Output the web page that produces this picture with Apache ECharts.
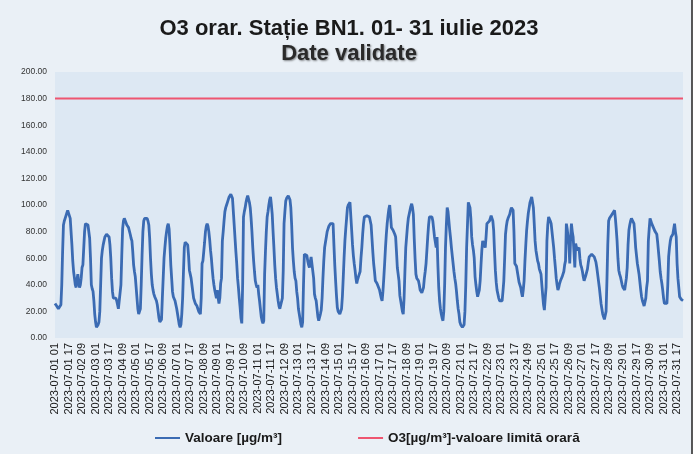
<!DOCTYPE html>
<html>
<head>
<meta charset="utf-8">
<script src="https://cdn.jsdelivr.net/npm/echarts@6/dist/echarts.min.js"></script>
<style>
  html, body { margin: 0; padding: 0; background: #f3f5f8; }
  #main { width: 698px; height: 454px; }
</style>
</head>
<body>
<div id="main"></div>
<script>
// valori orare O3 (µg/m3), cate o lista pe zi, ora 01..24
var d01 = [26,25,24,23,22,21,21,25,40,65,85,88,90,92,94,96,97,95,90,80,70,58,50,45];
var d02 = [40,38,44,48,42,38,40,45,53,55,56,80,86,86,86,85,84,75,60,40,37,35,28,18];
var d03 = [12,8,8,10,12,20,40,60,66,70,73,76,77,78,78,78,76,70,60,45,35,30,31,30];
var d04 = [30,28,25,22,21,22,40,62,82,88,90,91,89,85,84,83,82,78,75,73,65,55,50,46];
var d05 = [38,30,22,18,18,22,40,62,80,88,90,91,91,90,88,85,75,60,48,40,36,33,31,30];
var d06 = [28,25,20,15,12,11,14,30,45,60,68,75,80,84,86,82,70,55,45,35,31,30,28,25];
var d07 = [22,18,14,10,8,10,18,30,50,68,72,73,72,70,62,51,48,45,40,35,30,28,26,25];
var d08 = [24,22,20,19,18,30,56,58,65,72,80,84,86,84,80,74,66,60,52,45,40,36,33,30];
var d09 = [36,30,26,30,41,45,73,80,88,95,98,100,102,104,106,107,108,108,105,95,85,75,65,56];
var d10 = [45,38,30,23,15,11,40,91,95,98,102,105,107,106,102,98,90,80,68,58,50,43,40,38];
var d11 = [40,33,28,22,16,13,11,13,48,65,80,91,95,100,104,106,100,93,80,68,55,45,38,33];
var d12 = [28,24,22,21,22,30,50,86,95,103,105,106,107,108,104,98,85,68,58,50,45,43,35,30];
var d13 = [22,18,14,10,8,12,40,63,64,64,62,58,55,53,57,61,62,61,45,33,30,28,22,16];
var d14 = [13,14,18,21,30,45,58,68,72,76,80,82,84,85,86,86,86,86,70,55,43,32,23,20];
var d15 = [19,18,18,22,31,45,60,73,82,90,98,100,101,102,102,81,70,62,56,51,45,41,44,46];
var d16 = [48,50,60,68,78,86,91,92,92,92,92,92,91,91,85,75,65,56,50,43,42,41,41,41];
var d17 = [36,33,30,28,35,45,56,68,78,86,92,97,100,92,83,82,81,81,78,76,65,53,48,43];
var d18 = [32,28,24,20,18,30,50,68,76,84,90,93,96,99,101,98,93,75,60,48,45,44,43,40];
var d19 = [36,35,34,33,38,45,50,56,66,76,85,91,92,92,91,88,82,76,72,68,76,55,38,28];
var d20 = [22,18,15,13,20,40,68,85,98,95,88,81,75,68,62,56,50,45,41,35,28,22,18,12];
var d21 = [10,9,8,8,10,20,40,68,85,102,103,98,90,76,70,66,60,46,40,35,31,30,36,43];
var d22 = [55,66,73,73,72,68,76,86,87,87,88,90,92,93,88,81,65,51,42,36,33,30,28,28];
var d23 = [28,28,35,43,60,78,84,88,90,91,93,96,98,97,96,80,56,55,54,53,46,42,40,38];
var d24 = [34,31,36,43,58,70,81,88,94,98,102,104,106,102,98,86,73,66,62,58,56,52,50,48];
var d25 = [40,32,25,21,30,38,73,85,91,90,88,86,80,74,68,60,53,45,40,36,38,41,43,44];
var d26 = [46,48,50,55,58,86,82,81,70,56,75,86,80,76,65,53,71,68,66,67,68,60,55,53];
var d27 = [50,46,43,45,47,48,52,57,61,62,62,63,63,62,61,61,57,53,48,43,38,32,26,22];
var d28 = [18,16,14,13,20,43,70,88,90,91,92,93,94,95,96,90,82,73,60,51,48,46,43,40];
var d29 = [38,37,36,36,45,53,70,81,85,88,90,91,90,86,78,68,62,56,52,48,42,36,31,28];
var d30 = [26,24,23,30,38,43,73,82,90,88,86,85,83,82,80,79,78,72,65,58,50,45,41,36];
var d31 = [30,26,25,25,26,40,61,68,73,76,77,78,82,86,80,76,56,45,38,31,30,29,28,28];

var LIMIT = 180; // valoare limita orara O3
var days = [d01,d02,d03,d04,d05,d06,d07,d08,d09,d10,d11,d12,d13,d14,d15,d16,
            d17,d18,d19,d20,d21,d22,d23,d24,d25,d26,d27,d28,d29,d30,d31];

var categories = [];
var values = [];
days.forEach(function (day, i) {
  var dd = (i + 1 < 10 ? '0' : '') + (i + 1);
  day.forEach(function (v, h) {
    var hh = (h + 1 < 10 ? '0' : '') + (h + 1);
    categories.push('2023-07-' + dd + ' ' + hh);
    values.push(v);
  });
});
var limitLine = categories.map(function () { return LIMIT; });

var myChart = echarts.init(document.getElementById('main'));
var option = {
  backgroundColor: '#eaf0f6',
  animation: false,
  title: [{
    text: 'O3 orar. Stație BN1. 01- 31 iulie 2023',
    left: 'center',
    top: 13,
    textStyle: { fontFamily: 'Liberation Sans', fontSize: 22, fontWeight: 'bold', color: '#1a1a1a' }
  }, {
    text: 'Date validate',
    left: 'center',
    top: 38,
    textStyle: {
      fontFamily: 'Liberation Sans', fontSize: 22, fontWeight: 'bold', color: '#2a2a2a',
      textShadowColor: 'rgba(0,0,0,0.45)', textShadowBlur: 2, textShadowOffsetX: 1, textShadowOffsetY: 1
    }
  }],
  legend: {
    bottom: 4,
    left: 150,
    itemGap: 76,
    itemWidth: 25,
    itemHeight: 2,
    icon: 'rect',
    textStyle: { fontFamily: 'Liberation Sans', fontSize: 13.5, fontWeight: 'bold', color: '#1a1a1a' },
    data: ['Valoare [µg/m³]', 'O3[µg/m³]-valoare limită orară']
  },
  grid: {
    left: 55, right: 15, top: 72, bottom: 116,
    show: true, backgroundColor: '#dde8f3', borderWidth: 0
  },
  xAxis: {
    type: 'category',
    data: categories,
    boundaryGap: false,
    axisLine: { show: false },
    axisTick: { show: false },
    axisLabel: {
      interval: 15,
      rotate: 90,
      margin: 5,
      fontFamily: 'Liberation Sans',
      fontSize: 11,
      color: '#1a1a1a'
    }
  },
  yAxis: {
    type: 'value',
    min: 0,
    max: 200,
    interval: 20,
    axisLine: { show: false },
    axisTick: { show: false },
    splitLine: { show: false },
    axisLabel: {
      margin: 8,
      fontFamily: 'Liberation Sans',
      fontSize: 8.5,
      color: '#333',
      formatter: function (v) { return v.toFixed(2); }
    }
  },
  graphic: [{
    type: 'rect',
    shape: { x: 692, y: 0, width: 6, height: 454 },
    style: { fill: '#ffffff' }
  }, {
    type: 'line',
    shape: { x1: 692, y1: 0, x2: 692, y2: 454 },
    style: { stroke: '#222', lineWidth: 1.5 }
  }],
  series: [{
    name: 'Valoare [µg/m³]',
    type: 'line',
    data: values,
    showSymbol: false,
    lineStyle: { color: '#3b6bb3', width: 2.8 },
    itemStyle: { color: '#3b6bb3' }
  }, {
    name: 'O3[µg/m³]-valoare limită orară',
    type: 'line',
    data: limitLine,
    showSymbol: false,
    lineStyle: { color: '#ee5570', width: 2 },
    itemStyle: { color: '#ee5570' }
  }]
};
myChart.setOption(option);
</script>
</body>
</html>
